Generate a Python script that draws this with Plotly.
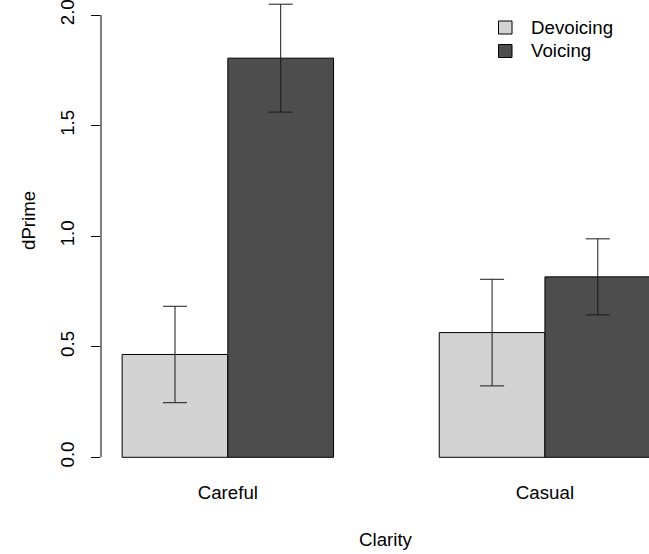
import plotly.graph_objects as go

# Data
groups = ["Careful", "Casual"]
series_names = ["Devoicing", "Voicing"]
series_colors = ["#d3d3d3", "#4d4d4d"]
devoicing = [0.465, 0.564]
devoicing_err = [0.218, 0.241]
voicing = [1.805, 0.816]
voicing_err = [0.244, 0.172]
ytick_vals = [0.0, 0.5, 1.0, 1.5, 2.0]
ytick_text = ["0.0", "0.5", "1.0", "1.5", "2.0"]

# R barplot positions (beside=TRUE, space=c(0,1))
dev_x = [1.5, 4.5]
voi_x = [2.5, 5.5]
group_x = [2.0, 5.0]

FONT = "Liberation Sans, Arial, Helvetica, sans-serif"
FS = 18.7
PL, PW, PH = 101, 548, 475  # plot-area left, width, height (px)

fig = go.Figure()
fig.add_trace(go.Bar(
    x=dev_x, y=devoicing, width=1.0, name=series_names[0],
    marker=dict(color=series_colors[0], line=dict(color="#000000", width=1)),
    error_y=dict(type="data", array=devoicing_err, visible=True,
                 color="#1a1a1a", thickness=1, width=12),
))
fig.add_trace(go.Bar(
    x=voi_x, y=voicing, width=1.0, name=series_names[1],
    marker=dict(color=series_colors[1], line=dict(color="#000000", width=1)),
    error_y=dict(type="data", array=voicing_err, visible=True,
                 color="#1a1a1a", thickness=1, width=12),
))

def px_x(p):
    return (p - PL) / PW

def px_y(p):
    return 1 - p / PH

shapes = [dict(type="line", xref="paper", yref="y", x0=0, x1=0,
               y0=ytick_vals[0], y1=ytick_vals[-1],
               line=dict(color="#000000", width=1))]
annotations = [
    dict(text="dPrime", xref="paper", yref="paper", x=px_x(28),
         y=px_y(221), xanchor="center", yanchor="middle", textangle=-90,
         showarrow=False, font=dict(size=FS, family=FONT)),
    dict(text="Clarity", xref="paper", yref="paper", x=px_x(386),
         y=px_y(539), xanchor="center", yanchor="middle",
         showarrow=False, font=dict(size=FS, family=FONT)),
]
# manual legend (R style)
for i, (nm, col) in enumerate(zip(series_names, series_colors)):
    cy = 27.5 + i * 23.5
    shapes.append(dict(type="rect", xref="paper", yref="paper",
                       x0=px_x(498.5), x1=px_x(512), y0=px_y(cy - 6.5), y1=px_y(cy + 6.5),
                       fillcolor=col, line=dict(color="#000000", width=1)))
    annotations.append(dict(text=nm, xref="paper", yref="paper", x=px_x(529),
                            y=px_y(cy), xanchor="left", yanchor="middle",
                            showarrow=False, font=dict(size=FS, family=FONT)))

fig.update_layout(
    width=649, height=554,
    margin=dict(l=PL, r=0, t=0, b=554 - PH),
    paper_bgcolor="white", plot_bgcolor="white",
    barmode="overlay",
    font=dict(family=FONT, size=FS, color="#000000"),
    showlegend=False,
    xaxis=dict(range=[0.8, 0.8 + PW / 105.7], showline=False, showgrid=False,
               zeroline=False, ticks="", tickvals=group_x, ticktext=groups,
               tickfont=dict(size=FS, family=FONT), ticklabelstandoff=4),
    yaxis=dict(range=[-0.08, 2.068], showline=False, showgrid=False, zeroline=False,
               ticks="outside", ticklen=9, tickcolor="#000000", tickwidth=1,
               tickvals=ytick_vals, ticktext=ytick_text, tickangle=-90,
               ticklabeloverflow="allow", ticklabelstandoff=10,
               tickfont=dict(size=FS, family=FONT)),
    shapes=shapes,
    annotations=annotations,
)

fig.write_html("out.html", post_script="document.body.style.margin='0';",
               config={"displayModeBar": False})
